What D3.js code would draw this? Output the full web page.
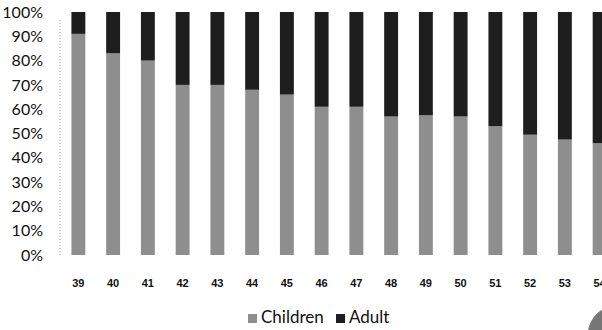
<!DOCTYPE html>
<html><head><meta charset="utf-8">
<script src="https://cdn.jsdelivr.net/npm/d3@7"></script>
<style>body{margin:0;background:#fff}svg{display:block}</style>
</head><body><svg id="c" width="602" height="330"></svg>
<script>
const categories = ["39","40","41","42","43","44","45","46","47","48","49","50","51","52","53","54"];
const children = [91,83,80,70,70,68,66,61,61,57,57.5,57,53,49.5,47.5,46];
const adult = children.map(v => 100 - v);
const yTicks = [0,10,20,30,40,50,60,70,80,90,100];
const seriesNames = ["Children","Adult"];
const colors = {Children:"#8e8e8e", Adult:"#1e1e1e"};

const svg = d3.select("#c");
const x = d3.scaleBand().domain(categories).range([61, 617]).paddingInner(0.6).paddingOuter(0.3);
const y = d3.scaleLinear().domain([0,100]).range([255, 12]);

// y axis dotted line
svg.append("line").attr("x1",60).attr("x2",60).attr("y1",y(100)+8).attr("y2",y(0))
  .attr("stroke","#999").attr("stroke-dasharray","1,2");

const yAxis = d3.axisLeft(y).tickValues(yTicks).tickFormat(d => d + "%").tickSize(0).tickPadding(0);
const gy = svg.append("g").attr("transform","translate(43,0)").call(yAxis);
gy.select(".domain").remove();
gy.selectAll("text").attr("font-family","Lato, 'Open Sans', sans-serif").attr("font-size",16).attr("fill","#111");

const data = categories.map((c,i) => ({cat:c, Children:children[i], Adult:adult[i]}));
const stack = d3.stack().keys(seriesNames)(data);
svg.append("g").selectAll("g").data(stack).join("g").attr("fill", d => colors[d.key])
  .selectAll("rect").data(d => d).join("rect")
  .attr("x", d => x(d.data.cat)).attr("width", x.bandwidth())
  .attr("y", d => y(d[1])).attr("height", d => y(d[0]) - y(d[1]));

const xAxis = d3.axisBottom(x).tickSize(0).tickPadding(0);
const gx = svg.append("g").attr("transform","translate(0,279)").call(xAxis);
gx.select(".domain").remove();
gx.selectAll("text").attr("font-family","'Liberation Sans', Arial, sans-serif").attr("font-size",11).attr("font-weight","bold").attr("fill","#111");

// legend
const legendX = [248, 336];
const lg = svg.append("g");
seriesNames.forEach((s,i) => {
  lg.append("rect").attr("x", legendX[i]).attr("y", 314).attr("width", 9).attr("height", 9).attr("fill", colors[s]);
  lg.append("text").attr("x", legendX[i] + 13).attr("y", 323).text(s)
    .attr("font-family","Lato, 'Open Sans', sans-serif").attr("font-size",17).attr("fill","#111");
});

// corner artifact
svg.append("circle").attr("cx", 616).attr("cy", 334).attr("r", 28).attr("fill","#777");
</script></body></html>
